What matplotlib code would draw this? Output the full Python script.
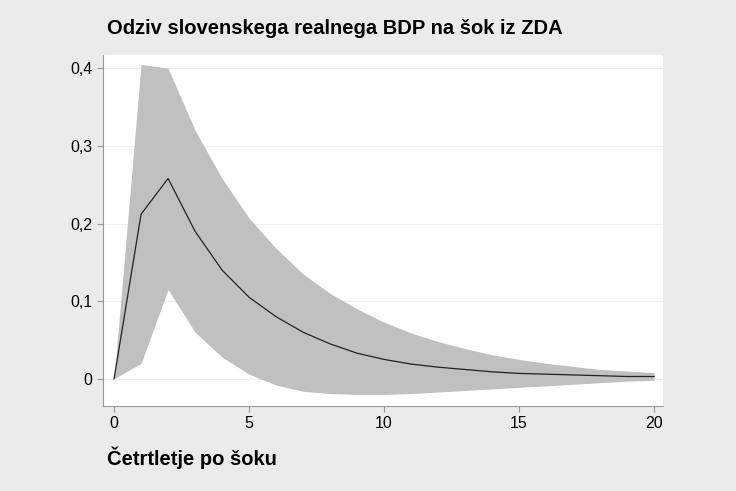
import matplotlib
matplotlib.use("Agg")
import matplotlib.pyplot as plt
import numpy as np

quarters = list(range(21))
response = [0, 0.212, 0.258, 0.19, 0.14, 0.105, 0.08, 0.06, 0.045, 0.033, 0.025,
            0.019, 0.015, 0.012, 0.009, 0.007, 0.006, 0.005, 0.004, 0.003, 0.003]
upper = [0, 0.405, 0.400, 0.32, 0.258, 0.207, 0.168, 0.135, 0.11, 0.09, 0.073,
         0.059, 0.048, 0.039, 0.031, 0.025, 0.02, 0.016, 0.012, 0.01, 0.008]
lower = [0, 0.02, 0.115, 0.06, 0.028, 0.006, -0.008, -0.016, -0.019, -0.02, -0.02,
         -0.019, -0.017, -0.015, -0.013, -0.011, -0.009, -0.007, -0.005, -0.003, -0.002]
yticks = [0, 0.1, 0.2, 0.3, 0.4]
ytick_labels = ["0", "0,1", "0,2", "0,3", "0,4"]
xticks = [0, 5, 10, 15, 20]

plt.rcParams['font.family'] = ['Liberation Sans', 'DejaVu Sans']
fig = plt.figure(figsize=(7.36, 4.91), dpi=100, facecolor='#ebebeb')
ax = fig.add_axes([103/736, 1-406/491, 560/736, 351/491])
ax.set_facecolor('white')
ax.fill_between(quarters, lower, upper, color='#c0c0c0', lw=0)
ax.plot(quarters, response, color='#222222', lw=0.9)
ax.set_xlim(-0.41, 20.33)
ax.set_ylim(-0.035, 0.417)
ax.set_yticks(yticks)
ax.set_yticklabels(ytick_labels)
ax.set_xticks(xticks)
for y in yticks:
    ax.axhline(y, color='#eeeeee', lw=0.8, zorder=0)
for s in ['top', 'right']:
    ax.spines[s].set_visible(False)
for s in ['left', 'bottom']:
    ax.spines[s].set_color('#999999')
ax.tick_params(colors='#999999', labelcolor='black', labelsize=11.5, length=4)
fig.text(107/736, 1-28/491, "Odziv slovenskega realnega BDP na šok iz ZDA",
         fontsize=14.5, fontweight='bold', va='center', ha='left')
fig.text(107/736, 1-458/491, "Četrtletje po šoku",
         fontsize=14.5, fontweight='bold', va='center', ha='left')
fig.savefig("out.png", dpi=100, facecolor=fig.get_facecolor())
